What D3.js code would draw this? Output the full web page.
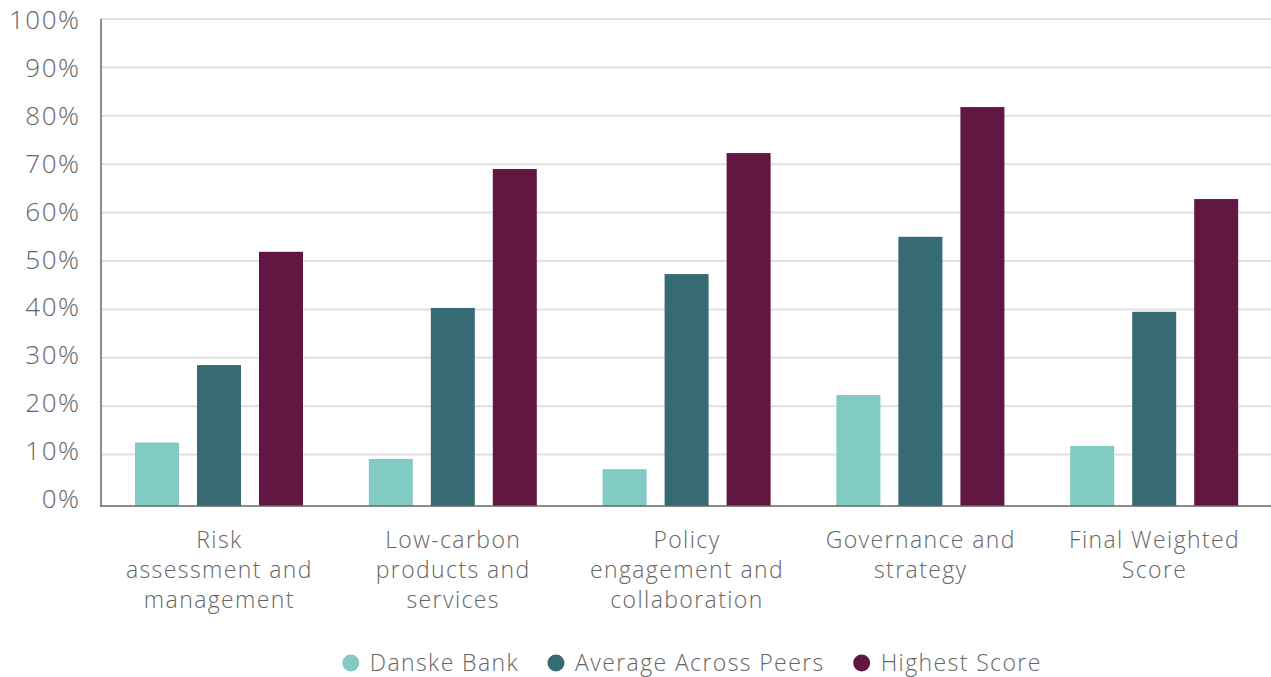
<!DOCTYPE html>
<html>
<head>
<meta charset="utf-8">
<script src="https://cdn.jsdelivr.net/npm/d3@7"></script>
<style>
  html, body { margin: 0; padding: 0; background: #ffffff; }
  svg { display: block; }
  text { font-family: "Open Sans", "Lato", sans-serif; font-weight: 300; fill: #666666; }
</style>
</head>
<body>
<svg id="chart" width="1271" height="677"></svg>
<script>
const categories = [
  ["Risk", "assessment and", "management"],
  ["Low-carbon", "products and", "services"],
  ["Policy", "engagement and", "collaboration"],
  ["Governance and", "strategy"],
  ["Final Weighted", "Score"]
];
const seriesNames = ["Danske Bank", "Average Across Peers", "Highest Score"];
const danskeBank = [0.125, 0.091, 0.070, 0.223, 0.118];
const averageAcrossPeers = [0.285, 0.403, 0.473, 0.550, 0.395];
const highestScore = [0.519, 0.690, 0.723, 0.818, 0.628];
const seriesValues = [danskeBank, averageAcrossPeers, highestScore];
const colors = ["#82CAC4", "#366B73", "#611742"];
const yTicks = [0, 0.1, 0.2, 0.3, 0.4, 0.5, 0.6, 0.7, 0.8, 0.9, 1.0];

const svg = d3.select("#chart");
const plotLeft = 101, plotRight = 1270, plotTop = 19, plotBottom = 503;

const y = d3.scaleLinear().domain([0, 1]).range([plotBottom, plotTop]);
const x0 = d3.scaleBand().domain(d3.range(categories.length)).range([plotLeft, plotRight]).padding(0);
const x1 = d3.scaleBand().domain(d3.range(seriesNames.length)).range([34, 202]).paddingInner(18 / 62).paddingOuter(0);
const axisY = plotBottom + 3;
const labelShift = d3.scaleLinear().domain([0, 1]).range([5, 0]);

// gridlines
svg.append("g").selectAll("line")
  .data(yTicks.filter(d => d > 0))
  .join("line")
  .attr("x1", plotLeft).attr("x2", 1271)
  .attr("y1", d => y(d)).attr("y2", d => y(d))
  .attr("stroke", "#e0e0e0").attr("stroke-width", 2);

// y tick labels
svg.append("g").selectAll("text")
  .data(yTicks)
  .join("text")
  .attr("x", 80.5)
  .attr("y", d => y(d) - labelShift(d))
  .attr("text-anchor", "end")
  .attr("dominant-baseline", "central")
  .style("font-size", "26px")
  .style("letter-spacing", "1.5px")
  .text(d => d3.format(".0%")(d));

// bars
const groups = svg.append("g").selectAll("g")
  .data(categories.map((c, i) => i))
  .join("g")
  .attr("transform", i => `translate(${x0(i)},0)`);

groups.selectAll("rect")
  .data(i => seriesValues.map((vals, s) => ({ s, v: vals[i] })))
  .join("rect")
  .attr("x", d => x1(d.s))
  .attr("width", x1.bandwidth())
  .attr("y", d => y(d.v))
  .attr("height", d => axisY - y(d.v))
  .attr("fill", d => colors[d.s]);

// axes lines
svg.append("line")
  .attr("x1", plotLeft).attr("x2", plotLeft)
  .attr("y1", plotTop).attr("y2", axisY + 1)
  .attr("stroke", "#666666").attr("stroke-width", 1.5);
svg.append("line")
  .attr("x1", plotLeft).attr("x2", 1271)
  .attr("y1", axisY).attr("y2", axisY)
  .attr("stroke", "#666666").attr("stroke-width", 1.5);

// category labels
categories.forEach((lines, i) => {
  const cx = x0(i) + x0.bandwidth() / 2 + 1.5;
  const t = svg.append("text")
    .attr("text-anchor", "middle")
    .style("font-size", "23px")
    .style("letter-spacing", "1.4px");
  lines.forEach((ln, j) => {
    t.append("tspan").attr("x", cx).attr("y", 548 + j * 30).text(ln);
  });
});

// legend
const legend = svg.append("g");
const items = seriesNames.map((name, s) => {
  const g = legend.append("g");
  g.append("circle").attr("cx", 0).attr("cy", 663).attr("r", 8.5).attr("fill", colors[s]);
  const tx = g.append("text").attr("x", 19).attr("y", 671)
    .style("font-size", "23px").style("letter-spacing", "1.4px").text(name);
  return { g, w: 19 + tx.node().getComputedTextLength() };
});
const gap = 37;
const totalW = d3.sum(items, d => d.w) + gap * (items.length - 1) + 8.5;
let cursor = 692 - totalW / 2 + 8.5;
items.forEach(it => {
  it.g.attr("transform", `translate(${cursor},0)`);
  cursor += it.w + gap;
});
</script>
</body>
</html>
